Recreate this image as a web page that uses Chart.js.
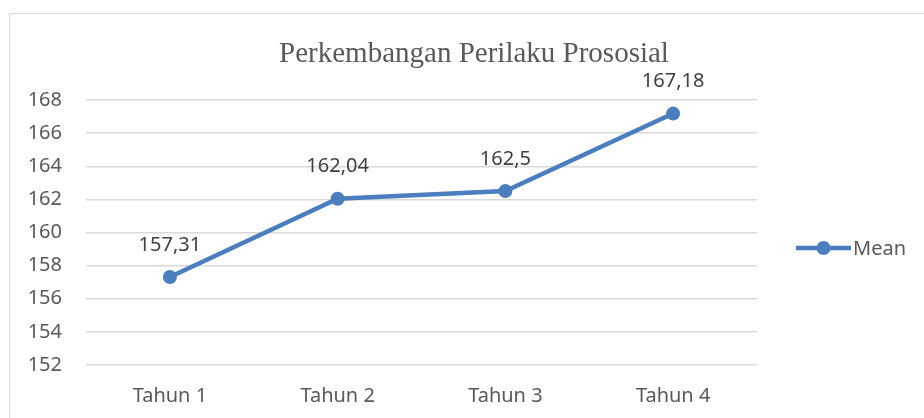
<!DOCTYPE html>
<html>
<head>
<meta charset="utf-8">
<script src="https://cdn.jsdelivr.net/npm/chart.js@4.4.1/dist/chart.umd.min.js"></script>
<style>
  html, body { margin: 0; padding: 0; background: #fff; }
  canvas { display: block; }
</style>
</head>
<body>
<canvas id="grafico" width="924" height="418"></canvas>
<script>
var kategori = ['Tahun 1', 'Tahun 2', 'Tahun 3', 'Tahun 4'];
var nilaiMean = [157.31, 162.04, 162.5, 167.18];
var judul = 'Perkembangan Perilaku Prososial';
var namaSeri = 'Mean';

var warnaGaris = '#4a7ebf',
    warnaTeks = '#595959',
    fontSans = '"Noto Sans", sans-serif';

// bingkai, judul, legenda dan label data digambar sendiri
var pluginExtra = {
    id: 'pluginExtra',
    beforeDraw: function (chart) {
        var ctx = chart.ctx;
        ctx.save();
        ctx.strokeStyle = '#d9d9d9';
        ctx.lineWidth = 1;
        ctx.strokeRect(9.5, 13.5, 2000, 2000);
        ctx.restore();
    },
    afterDatasetsDraw: function (chart) {
        var ctx = chart.ctx,
            meta = chart.getDatasetMeta(0);

        ctx.save();
        ctx.font = '20px ' + fontSans;
        ctx.fillStyle = '#404040';
        ctx.textAlign = 'center';
        ctx.textBaseline = 'middle';
        meta.data.forEach(function (pt, i) {
            var teks = String(nilaiMean[i]).replace('.', ',');
            ctx.fillText(teks, pt.x, pt.y - 32);
        });

        // judul
        ctx.font = '29px "Liberation Serif", serif';
        ctx.fillStyle = warnaTeks;
        ctx.textBaseline = 'alphabetic';
        ctx.fillText(judul, 474, 62);

        // legenda
        ctx.textBaseline = 'middle';
        ctx.strokeStyle = warnaGaris;
        ctx.lineWidth = 4.5;
        ctx.beginPath();
        ctx.moveTo(796, 248);
        ctx.lineTo(851, 248);
        ctx.stroke();
        ctx.fillStyle = warnaGaris;
        ctx.beginPath();
        ctx.arc(823.5, 248, 7, 0, Math.PI * 2);
        ctx.fill();
        ctx.font = '20px ' + fontSans;
        ctx.fillStyle = warnaTeks;
        ctx.textAlign = 'left';
        ctx.fillText(namaSeri, 853, 249);
        ctx.restore();
    }
};

var ctx = document.getElementById('grafico').getContext('2d');

new Chart(ctx, {
    type: 'line',
    data: {
        labels: kategori,
        datasets: [{
            label: namaSeri,
            data: nilaiMean,
            borderColor: warnaGaris,
            backgroundColor: warnaGaris,
            borderWidth: 4.5,
            pointRadius: 7,
            pointHoverRadius: 7,
            pointBorderWidth: 0,
            tension: 0
        }]
    },
    options: {
        responsive: false,
        devicePixelRatio: 1,
        animation: false,
        layout: {
            padding: { left: 26, right: 167, top: 100, bottom: 13 }
        },
        plugins: {
            legend: { display: false },
            title: { display: false },
            tooltip: { enabled: false }
        },
        scales: {
            x: {
                offset: true,
                grid: { display: false, drawTicks: false },
                border: { display: false },
                ticks: {
                    padding: 19,
                    color: warnaTeks,
                    font: { family: fontSans, size: 20 }
                },
                afterFit: function (scale) { scale.height = 40; }
            },
            y: {
                min: 152,
                max: 168,
                grid: { color: '#d9d9d9', lineWidth: 1.5, drawTicks: false },
                border: { display: false },
                ticks: {
                    stepSize: 2,
                    padding: 24,
                    color: warnaTeks,
                    font: { family: fontSans, size: 20 }
                },
                afterFit: function (scale) { scale.width = 60; }
            }
        }
    },
    plugins: [pluginExtra]
});
</script>
</body>
</html>
